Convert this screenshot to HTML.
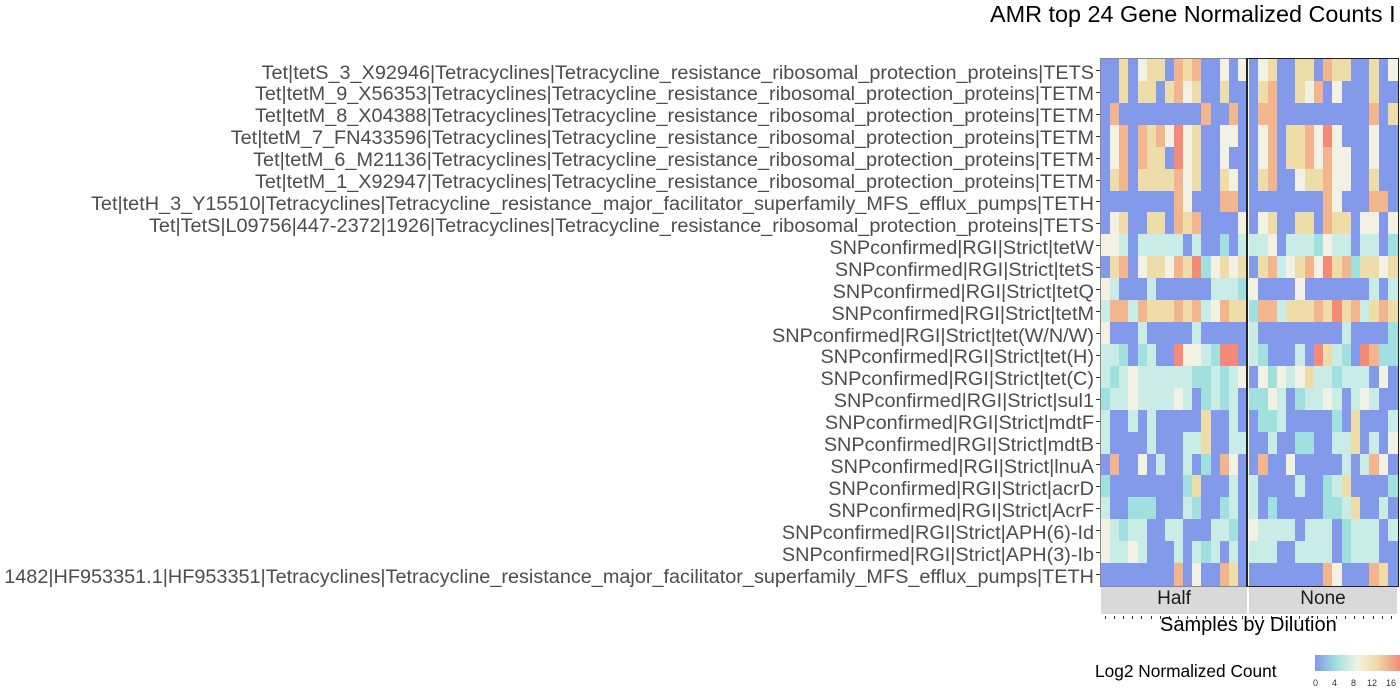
<!DOCTYPE html>
<html><head><meta charset="utf-8"><style>
body{margin:0;width:1400px;height:700px;background:#fff;position:relative;overflow:hidden;font-family:"Liberation Sans",sans-serif;}
.t{position:absolute;white-space:nowrap;}
.lab{position:absolute;right:306px;font-size:19.85px;color:#4d4d4d;white-space:nowrap;line-height:22px;}
.c{position:absolute;}
</style></head><body>
<div class="t" style="left:990px;top:1px;font-size:23.4px;color:#000">AMR top 24 Gene Normalized Counts I</div>
<div id="root"></div>
<div class="t" style="left:1101px;top:587px;width:146px;height:27px;background:#d9d9d9;"></div>
<div class="t" style="left:1249px;top:587px;width:148px;height:27px;background:#d9d9d9;"></div>
<div class="t" style="left:1101px;top:588px;width:146px;text-align:center;font-size:19px;color:#1a1a1a">Half</div>
<div class="t" style="left:1249px;top:588px;width:148px;text-align:center;font-size:19px;color:#1a1a1a">None</div>
<div class="t" style="left:1160px;top:614px;font-size:20px;color:#000">Samples by Dilution</div>
<div class="t" style="left:1095px;top:661px;font-size:17.3px;color:#000">Log2 Normalized Count</div>
<div class="t" style="left:1315px;top:655px;width:85px;height:16px;background:linear-gradient(to right,#8399e9,#a0e1df 25%,#f3f1e4 50%,#eedda9 72%,#f58a78 100%);"></div>
<div class="t" style="left:1313px;top:678px;font-size:9px;color:#333">0</div>
<div class="t" style="left:1332px;top:678px;font-size:9px;color:#333">4</div>
<div class="t" style="left:1351px;top:678px;font-size:9px;color:#333">8</div>
<div class="t" style="left:1367px;top:678px;font-size:9px;color:#333">12</div>
<div class="t" style="left:1386px;top:678px;font-size:9px;color:#333">16</div>
<script>
(function(){
var labels=["Tet|tetS_3_X92946|Tetracyclines|Tetracycline_resistance_ribosomal_protection_proteins|TETS",
"Tet|tetM_9_X56353|Tetracyclines|Tetracycline_resistance_ribosomal_protection_proteins|TETM",
"Tet|tetM_8_X04388|Tetracyclines|Tetracycline_resistance_ribosomal_protection_proteins|TETM",
"Tet|tetM_7_FN433596|Tetracyclines|Tetracycline_resistance_ribosomal_protection_proteins|TETM",
"Tet|tetM_6_M21136|Tetracyclines|Tetracycline_resistance_ribosomal_protection_proteins|TETM",
"Tet|tetM_1_X92947|Tetracyclines|Tetracycline_resistance_ribosomal_protection_proteins|TETM",
"Tet|tetH_3_Y15510|Tetracyclines|Tetracycline_resistance_major_facilitator_superfamily_MFS_efflux_pumps|TETH",
"Tet|TetS|L09756|447-2372|1926|Tetracyclines|Tetracycline_resistance_ribosomal_protection_proteins|TETS",
"SNPconfirmed|RGI|Strict|tetW","SNPconfirmed|RGI|Strict|tetS","SNPconfirmed|RGI|Strict|tetQ","SNPconfirmed|RGI|Strict|tetM",
"SNPconfirmed|RGI|Strict|tet(W/N/W)","SNPconfirmed|RGI|Strict|tet(H)","SNPconfirmed|RGI|Strict|tet(C)","SNPconfirmed|RGI|Strict|sul1",
"SNPconfirmed|RGI|Strict|mdtF","SNPconfirmed|RGI|Strict|mdtB","SNPconfirmed|RGI|Strict|lnuA","SNPconfirmed|RGI|Strict|acrD",
"SNPconfirmed|RGI|Strict|AcrF","SNPconfirmed|RGI|Strict|APH(6)-Id","SNPconfirmed|RGI|Strict|APH(3)-Ib",
"1482|HF953351.1|HF953351|Tetracyclines|Tetracycline_resistance_major_facilitator_superfamily_MFS_efflux_pumps|TETH"];
var H=["BBcBwccBocoBBwBw","BBcBccBcowcBBcBB","BoBBBBBBBBBoBBoBc","BwoBocowrwcBBwwB","BwoBoccBrwcBBwBB","BcoBccccowcBBcwB",
"BBBBBBBBowBBBooB","BwcBBccBocoBBBBw","wwtBtttttBtBBTBt","BcoBwccwocrTwcwc","wtBBBtBBBBBBtttT","tootocccocotwocc",
"wBBBtBBBBBtBBBBB","ttTBTtBBrwwtTrrB","tTtwttttttTTtTtw","TttwttttwtBTtTtB","tBBtBtBBBBBcBBtB","tBBBBtBBBttcBBtt",
"BoBBwBtBBtBTBowB","TBBBBBBBBTcBBBtB","tBBTTTBBBtTBBTtB","wtTttBBttBBBttTB","wttwtBBBtBtTtBtB","BBBBBBBBoBwBBocB"];
var N=["BwcBBccBoccBBcBw","BcoBBcwoBwBBBcBB","BooBBBBBBBBBBoBc","BwoBccowrwBBBwBB","BwoBccowowwBBwBB","BcoBBwccowwBBcBB",
"BBBBBBBBowBBBooB","BwcBBccBoccBwwBw","ttwBtttTwttBttBT","BcotwcowrcoTccwc","wBBBBwBBBBBBBtBt","TootcccocrcotcocC",
"tBBBBBBBBBtBBBBT","tTBBBtBrctTBroTT","BwTwtwcttTtttBwB","TTwtBTttwtBtwtBB","BTTtBBBBBTBcBBBt","BBtBBTTBBttcBtBw",
"BoBBwBBBBBtBtowB","tBBBBtBBTtcBBBBT","tBTBBBBBTTtcBBtB","wttttBtttBTtttBt","tttBBttttBTtttBB","BBBBBBBBowBBBocB"];
var col={B:"#8399e9",t:"#c9ece6",T:"#a0e1df",w:"#f3f1e4",c:"#eedda9",C:"#eedda9",o:"#f2b58e",r:"#f58a78"};
var h="",top0=59,rh=526/24;
for(var i=0;i<24;i++){
 var y=top0+i*rh;
 h+='<div class="lab" style="top:'+(y+2.5)+'px">'+labels[i]+'</div>';
 h+='<div class="c" style="left:1096px;top:'+(y+rh/2)+'px;width:4px;height:1px;background:#333"></div>';
 var rows=[[H[i],1101,146],[N[i],1249,148]];
 for(var k=0;k<2;k++){var s=rows[k][0],x0=rows[k][1],w=rows[k][2]/16;
  for(var j=0;j<16;j++){var ch=s.charAt(j)||"B";
   h+='<div class="c" style="left:'+(x0+j*w)+'px;top:'+y+'px;width:'+(w+0.6)+'px;height:'+(rh+0.6)+'px;background:'+col[ch]+'"></div>';}}
}
for(var j=0;j<16;j++){h+='<div class="c" style="left:'+(1105+j*9.1)+'px;top:616px;width:1px;height:3px;background:#333"></div>';
 h+='<div class="c" style="left:'+(1253+j*9.2)+'px;top:616px;width:1px;height:3px;background:#333"></div>';}
h+='<div class="c" style="left:1100px;top:58px;width:146px;height:527px;border:1px solid #888"></div>';
h+='<div class="c" style="left:1246px;top:58px;width:150px;height:527px;border:1px solid #222;border-left:2px solid #222"></div>';
document.getElementById("root").innerHTML=h;
})();
</script>
</body></html>
